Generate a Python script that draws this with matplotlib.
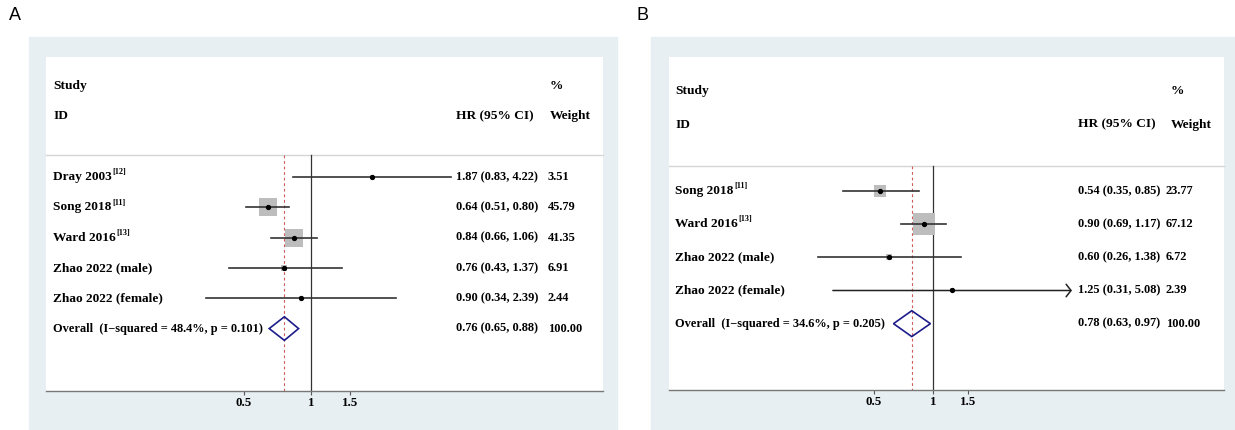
import numpy as np
import matplotlib
matplotlib.use("Agg")
import matplotlib.pyplot as plt
from matplotlib.patches import Rectangle, Polygon
import matplotlib.transforms as mtransforms

# ---- data: panel A ----
studies_a = ["Dray 2003", "Song 2018", "Ward 2016", "Zhao 2022 (male)", "Zhao 2022 (female)"]
refs_a = ["[12]", "[11]", "[13]", "", ""]
hr_a = [1.87, 0.64, 0.84, 0.76, 0.90]
lo_a = [0.83, 0.51, 0.66, 0.43, 0.34]
hi_a = [4.22, 0.80, 1.06, 1.37, 2.39]
wt_a = [3.51, 45.79, 41.35, 6.91, 2.44]
overall_a = (0.76, 0.65, 0.88)
i2_a, p_a = 48.4, 0.101

# ---- data: panel B ----
studies_b = ["Song 2018", "Ward 2016", "Zhao 2022 (male)", "Zhao 2022 (female)"]
refs_b = ["[11]", "[13]", "", ""]
hr_b = [0.54, 0.90, 0.60, 1.25]
lo_b = [0.35, 0.69, 0.26, 0.31]
hi_b = [0.85, 1.17, 1.38, 5.08]
wt_b = [23.77, 67.12, 6.72, 2.39]
overall_b = (0.78, 0.63, 0.97)
i2_b, p_b = 34.6, 0.205

W, H = 1235, 430
BG = "#e8eff2"
FONT = "Liberation Serif"
FS = 9.6      # labels / headers
FS_NUM = 8.9  # numeric columns and overall line
xlim_arrow = 5.0

fig = plt.figure(figsize=(W / 100, H / 100), dpi=100)


def fbox(x0, y0, x1, y1):
    # pixel box (top-left origin) -> figure fraction [l, b, w, h]
    return [x0 / W, 1 - y1 / H, (x1 - x0) / W, (y1 - y0) / H]


def forest(ax, names, refs, hr, lo, hi, wt, overall, i2, p, xlim, ylim, cols):
    n = len(names)
    ybot, ytop = ylim
    sep = 0.26
    ax.set_xscale("log")
    ax.set_xlim(*xlim)
    ax.set_ylim(ybot, ytop)
    for s in ["top", "left", "right"]:
        ax.spines[s].set_visible(False)
    ax.spines["bottom"].set_color("#777777")
    ax.spines["bottom"].set_linewidth(1.0)
    ax.set_yticks([])
    ax.set_xticks([0.5, 1, 1.5])
    ax.set_xticklabels(["0.5", "1", "1.5"])
    ax.xaxis.set_minor_locator(matplotlib.ticker.NullLocator())
    ax.tick_params(axis="x", length=3, width=0.8, color="#555555", pad=1.5)
    for t in ax.get_xticklabels():
        t.set_fontfamily(FONT)
        t.set_fontweight("bold")
        t.set_fontsize(FS_NUM + 0.4)

    tr = mtransforms.blended_transform_factory(ax.transAxes, ax.transData)
    txt = dict(fontfamily=FONT, fontweight="bold", fontsize=FS, va="center", transform=tr)
    num = dict(txt, fontsize=FS_NUM)
    c_name, c_hr, c_wt, c_wh = cols

    # header
    ax.text(c_name, -2, "Study", **txt)
    ax.text(c_name, -1, "ID", **txt)
    ax.text(c_hr, -1, "HR (95% CI)", **txt)
    ax.text(c_wh, -2, "%", **txt)
    ax.text(c_wh, -1, "Weight", **txt)
    ax.plot([0, 1], [sep, sep], transform=tr, color="#d5d5d5", lw=1.0, clip_on=False)

    # reference lines
    ax.plot([1, 1], [sep, ybot], color="#333333", lw=0.9)
    ax.plot([overall[0], overall[0]], [sep, ybot], color="#d05a5a", lw=0.8,
            linestyle=(0, (2.5, 2.5)))

    ys = np.arange(1, n + 1)
    for y, nm, rf, e, l, h, w in zip(ys, names, refs, hr, lo, hi, wt):
        t = ax.text(c_name, y, nm, **txt)
        if rf:
            ax.annotate(rf, xy=(1, 1), xycoords=t, xytext=(0.6, 2.0),
                        textcoords="offset points", ha="left", va="top",
                        fontfamily=FONT, fontweight="bold", fontsize=FS * 0.62)
        side = 2.65 * np.sqrt(w) * 0.72
        ax.scatter([e], [y], marker="s", s=side ** 2, color="#bdbdbd", lw=0, zorder=2)
        if h > xlim_arrow:
            ax.annotate("", xy=(h, y), xytext=(l, y),
                        arrowprops=dict(arrowstyle="->,head_length=0.35,head_width=0.45",
                                        color="#222222", lw=1.1, shrinkA=0, shrinkB=0))
        else:
            ax.plot([l, h], [y, y], color="#333333", lw=1.2, zorder=3)
        ax.plot([e], [y], "o", color="black", ms=2.8, zorder=4)
        ax.text(c_hr, y, f"{e:.2f} ({l:.2f}, {h:.2f})", **num)
        ax.text(c_wt, y, f"{w:.2f}", **num)

    # overall
    yo = n + 1
    e, l, h = overall
    ax.text(c_name, yo, f"Overall  (I\u2212squared = {i2}%, p = {p:.3f})", **num)
    dia = Polygon([[l, yo], [e, yo - 0.39], [h, yo], [e, yo + 0.39]], closed=True,
                  fill=False, edgecolor="#1c1c8a", lw=1.2, zorder=4)
    ax.add_patch(dia)
    ax.text(c_hr, yo, f"{e:.2f} ({l:.2f}, {h:.2f})", **num)
    ax.text(c_wt, yo, "100.00", **num)


# panel A
fig.add_artist(Rectangle(fbox(29, 37, 617, 430)[:2], 588 / W, 393 / H,
                         transform=fig.transFigure, color=BG, zorder=-5))
axa = fig.add_axes(fbox(46, 57, 603, 391))
axa.set_zorder(2)
xa0, sa = 311, 97.0
forest(axa, studies_a, refs_a, hr_a, lo_a, hi_a, wt_a, overall_a, i2_a, p_a,
       (np.exp((46 - xa0) / sa), np.exp((603 - xa0) / sa)),
       (len(studies_a) + 3.06, -2.96),
       ((53 - 46) / 557, (456 - 46) / 557, (548 - 46) / 557, (550 - 46) / 557))

# panel B
fig.add_artist(Rectangle(fbox(651, 37, 1235, 430)[:2], 584 / W, 393 / H,
                         transform=fig.transFigure, color=BG, zorder=-5))
axb = fig.add_axes(fbox(669, 57, 1224, 390))
axb.set_zorder(2)
xb0, sb = 933, 85.5
forest(axb, studies_b, refs_b, hr_b, lo_b, hi_b, wt_b, overall_b, i2_b, p_b,
       (np.exp((669 - xb0) / sb), np.exp((1224 - xb0) / sb)),
       (len(studies_b) + 3.0, -3.04),
       ((675 - 669) / 555, (1078 - 669) / 555, (1166 - 669) / 555, (1171 - 669) / 555))

fig.text(15 / W, 1 - 16 / H, "A", fontfamily="Liberation Sans", fontsize=13, ha="center", va="center")
fig.text(643 / W, 1 - 16 / H, "B", fontfamily="Liberation Sans", fontsize=13, ha="center", va="center")

fig.savefig("out.png", dpi=100, facecolor="white")
